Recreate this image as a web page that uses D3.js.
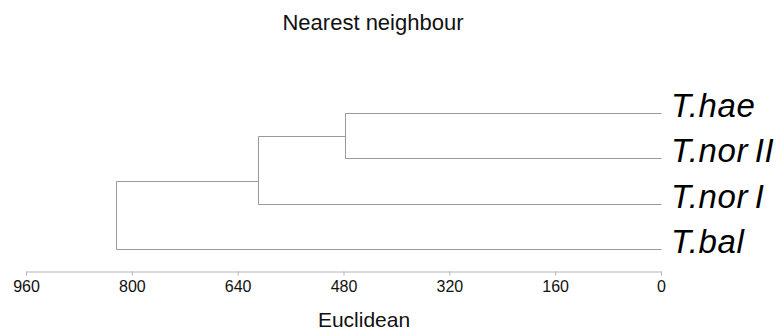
<!DOCTYPE html>
<html>
<head>
  <meta charset="UTF-8">
  <style>
    body {
      margin: 0;
      background-color: #ffffff;
      font-family: "Liberation Sans", Arial, sans-serif;
    }
    svg {
      display: block;
    }
    .axis path, .axis line {
      stroke: #b4b4b4;
    }
    .axis text {
      font-family: "Liberation Sans", Arial, sans-serif;
      font-size: 16px;
      fill: #111;
    }
  </style>
</head>
<body>

<svg></svg>

<script src="https://d3js.org/d3.v7.min.js"></script>

<script>
// leaves top to bottom
let leaves = ["T.hae", "T.nor II", "T.nor I", "T.bal"];
// merges: children are leaf names or merge ids, height = Euclidean distance
let merges = [
  {id: "m1", left: "T.hae", right: "T.nor II", height: 477},
  {id: "m2", left: "m1", right: "T.nor I", height: 609},
  {id: "m3", left: "m2", right: "T.bal", height: 824}
];
let ticks = [960, 800, 640, 480, 320, 160, 0];

let width = 779, height = 332;

let svg = d3.select("svg")
    .attr("width", width)
    .attr("height", height);

let x = d3.scaleLinear()
    .domain([960, 0])
    .range([26, 661]);

let y = d3.scaleLinear()
    .domain([0, leaves.length - 1])
    .range([113, 249]);

// node info: first/last leaf index and position of the connector
let nodes = {};
leaves.forEach((d, i) => {
  nodes[d] = {first: i, last: i, pos: i, height: 0};
});
merges.forEach(m => {
  let l = nodes[m.left], r = nodes[m.right];
  nodes[m.id] = {
    first: l.first,
    last: r.last,
    pos: (l.last + r.first) / 2,
    height: m.height
  };
});

let tree = svg.append("g")
    .attr("fill", "none")
    .attr("stroke", "#9a9a9a")
    .attr("stroke-width", 1);

merges.forEach(m => {
  let l = nodes[m.left], r = nodes[m.right];
  let xm = Math.round(x(m.height)) + 0.5;
  // vertical joining the two children
  tree.append("line")
      .attr("x1", xm).attr("x2", xm)
      .attr("y1", Math.round(y(l.pos)) + 0.5)
      .attr("y2", Math.round(y(r.pos)) + 0.5);
  // horizontals out to each child
  [l, r].forEach(c => {
    tree.append("line")
        .attr("x1", xm)
        .attr("x2", Math.round(x(c.height)) + 0.5)
        .attr("y1", Math.round(y(c.pos)) + 0.5)
        .attr("y2", Math.round(y(c.pos)) + 0.5);
  });
});

// leaf labels
svg.append("g")
  .selectAll("text")
  .data(leaves)
  .enter()
  .append("text")
    .attr("x", x(0) + 10)
    .attr("y", (d, i) => y(i) + 4)
    .attr("font-size", "33px")
    .attr("font-style", "italic")
    .attr("letter-spacing", "0.6px")
    .attr("word-spacing", "-3px")
    .attr("fill", "#000")
    .text(d => d);

// axis
let axis = svg.append("g")
    .attr("class", "axis")
    .attr("transform", "translate(0,271.5)")
    .call(d3.axisBottom(x)
      .tickValues(ticks)
      .tickSize(4)
      .tickSizeOuter(0)
      .tickPadding(5)
      .tickFormat(d3.format("d")));

// titles
svg.append("text")
    .attr("x", 373)
    .attr("y", 30)
    .attr("text-anchor", "middle")
    .attr("font-size", "22px")
    .attr("fill", "#111")
    .text("Nearest neighbour");

svg.append("text")
    .attr("x", 364)
    .attr("y", 327)
    .attr("text-anchor", "middle")
    .attr("font-size", "21px")
    .attr("fill", "#111")
    .text("Euclidean");
</script>

</body>
</html>
